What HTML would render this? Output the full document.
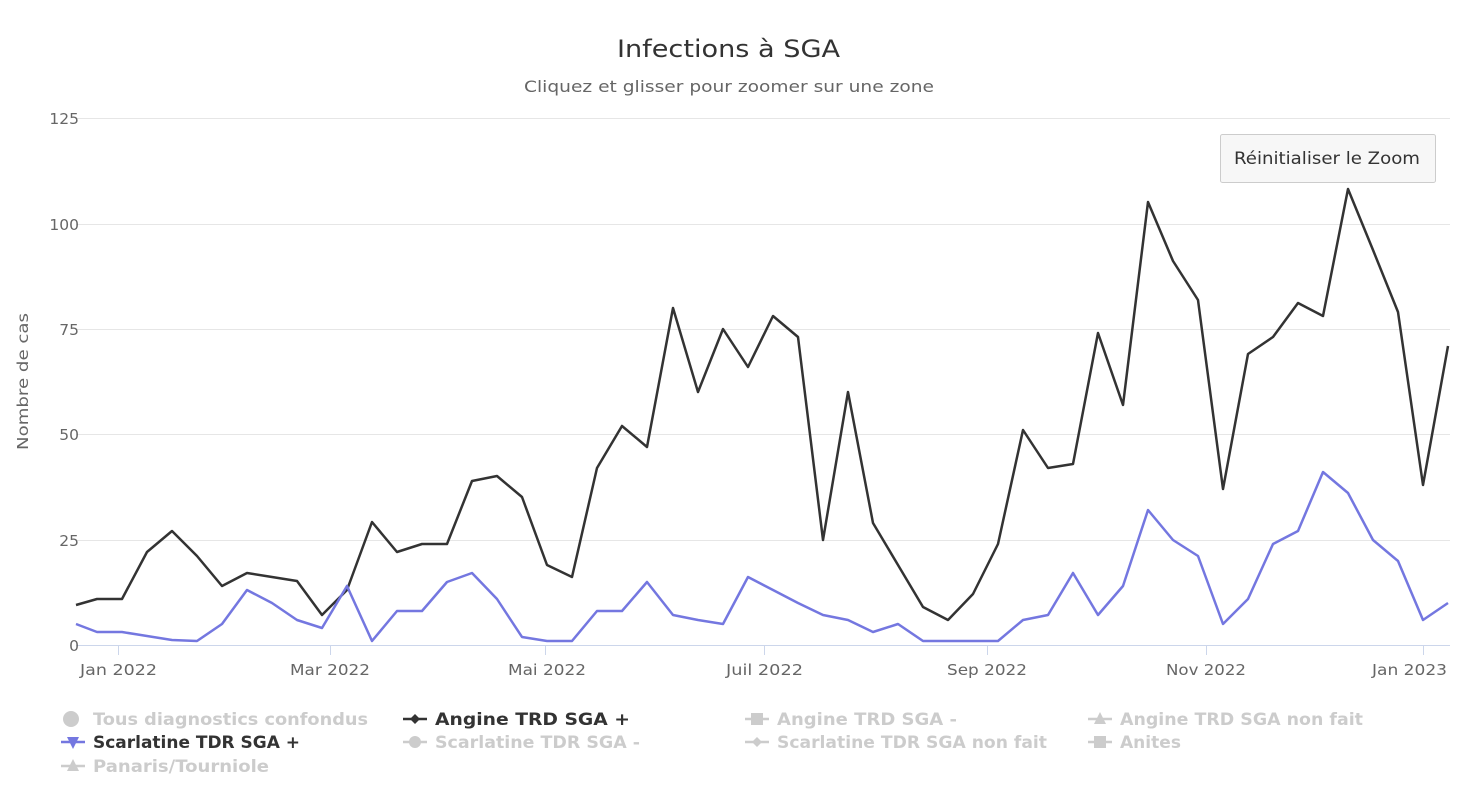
<!DOCTYPE html>
<html><head><meta charset="utf-8"><style>
body{margin:0;background:#fff;}
</style></head><body>
<svg width="1480" height="797" xmlns="http://www.w3.org/2000/svg" font-family="DejaVu Sans, Liberation Sans, sans-serif">
<rect width="1480" height="797" fill="#fff"/>
<text x="617" y="57" font-size="24" fill="#333" textLength="223" lengthAdjust="spacingAndGlyphs">Infections à SGA</text>
<text x="524" y="92" font-size="16" fill="#666" textLength="410" lengthAdjust="spacingAndGlyphs">Cliquez et glisser pour zoomer sur une zone</text>
<g stroke="#e6e6e6" stroke-width="1">
<line x1="76" x2="1450" y1="118.5" y2="118.5"/>
<line x1="76" x2="1450" y1="224.5" y2="224.5"/>
<line x1="76" x2="1450" y1="329.5" y2="329.5"/>
<line x1="76" x2="1450" y1="434.5" y2="434.5"/>
<line x1="76" x2="1450" y1="540.5" y2="540.5"/>
</g>
<line x1="76" x2="1450" y1="645.5" y2="645.5" stroke="#ccd6eb"/>
<g stroke="#ccd6eb"><line x1="118.5" x2="118.5" y1="645" y2="655"/><line x1="330.5" x2="330.5" y1="645" y2="655"/><line x1="545.5" x2="545.5" y1="645" y2="655"/><line x1="764.5" x2="764.5" y1="645" y2="655"/><line x1="987.5" x2="987.5" y1="645" y2="655"/><line x1="1206.5" x2="1206.5" y1="645" y2="655"/><line x1="1423.5" x2="1423.5" y1="645" y2="655"/></g>
<g font-size="15.5" fill="#666" text-anchor="end">
<text x="79" y="124">125</text><text x="79" y="230">100</text><text x="79" y="335">75</text><text x="79" y="440">50</text><text x="79" y="546">25</text><text x="79" y="651">0</text>
</g>
<g font-size="15.5" fill="#666">
<text x="80" y="675" textLength="77" lengthAdjust="spacingAndGlyphs">Jan 2022</text>
<text x="290" y="675" textLength="80" lengthAdjust="spacingAndGlyphs">Mar 2022</text>
<text x="508" y="675" textLength="78" lengthAdjust="spacingAndGlyphs">Mai 2022</text>
<text x="726" y="675" textLength="77" lengthAdjust="spacingAndGlyphs">Juil 2022</text>
<text x="947" y="675" textLength="80" lengthAdjust="spacingAndGlyphs">Sep 2022</text>
<text x="1166" y="675" textLength="80" lengthAdjust="spacingAndGlyphs">Nov 2022</text>
<text x="1372" y="675" textLength="75" lengthAdjust="spacingAndGlyphs">Jan 2023</text>
</g>
<text transform="translate(28,450) rotate(-90)" font-size="15.5" fill="#666" textLength="137" lengthAdjust="spacingAndGlyphs">Nombre de cas</text>
<polyline fill="none" stroke="#333" stroke-width="2.5" stroke-linejoin="round" points="76,605 97,599 122,599 147,552 172,531 197,556 222,586 247,573 272,577 297,581 322,615 347,590 372,522 397,552 422,544 447,544 472,481 497,476 522,497 547,565 572,577 597,468 622,426 647,447 673,308 698,392 723,329 748,367 773,316 798,337 823,540 848,392 873,523 898,565 923,607 948,620 973,594 998,544 1023,430 1048,468 1073,464 1098,333 1123,405 1148,202 1173,261 1198,300 1223,489 1248,354 1273,337 1298,303 1323,316 1348,189 1373,250 1398,312 1423,485 1448,346"/>
<polyline fill="none" stroke="#7477e0" stroke-width="2.5" stroke-linejoin="round" points="76,624 97,632 122,632 147,636 172,640 197,641 222,624 247,590 272,603 297,620 322,628 347,586 372,641 397,611 422,611 447,582 472,573 497,599 522,637 547,641 572,641 597,611 622,611 647,582 673,615 698,620 723,624 748,577 773,590 798,603 823,615 848,620 873,632 898,624 923,641 948,641 973,641 998,641 1023,620 1048,615 1073,573 1098,615 1123,586 1148,510 1173,540 1198,556 1223,624 1248,599 1273,544 1298,531 1323,472 1348,493 1373,540 1398,561 1423,620 1448,603"/>
<rect x="1220.5" y="134.5" width="215" height="48" rx="2" fill="#f7f7f7" stroke="#ccc"/>
<text x="1234" y="164" font-size="16.5" fill="#333" textLength="186" lengthAdjust="spacingAndGlyphs">Réinitialiser le Zoom</text>
<g font-size="17" font-weight="bold">
<circle cx="71" cy="719" r="8" fill="#ccc"/><text x="93" y="725" fill="#ccc" textLength="275" lengthAdjust="spacingAndGlyphs">Tous diagnostics confondus</text>
<line x1="403" x2="427" y1="719" y2="719" stroke="#333" stroke-width="2.5"/><path d="M415 714 L420 719 L415 724 L410 719Z" fill="#333"/><text x="435" y="725" fill="#333" textLength="195" lengthAdjust="spacingAndGlyphs">Angine TRD SGA +</text>
<line x1="745" x2="769" y1="719" y2="719" stroke="#ccc" stroke-width="2.5"/><rect x="751" y="713" width="12" height="12" fill="#ccc"/><text x="777" y="725" fill="#ccc" textLength="180" lengthAdjust="spacingAndGlyphs">Angine TRD SGA -</text>
<line x1="1088" x2="1112" y1="719" y2="719" stroke="#ccc" stroke-width="2.5"/><path d="M1100 712 L1106 724 L1094 724Z" fill="#ccc"/><text x="1120" y="725" fill="#ccc" textLength="243" lengthAdjust="spacingAndGlyphs">Angine TRD SGA non fait</text>
<line x1="61" x2="85" y1="742" y2="742" stroke="#7477e0" stroke-width="2.5"/><path d="M67 737 L79 737 L73 749Z" fill="#7477e0"/><text x="93" y="748" fill="#333" textLength="207" lengthAdjust="spacingAndGlyphs">Scarlatine TDR SGA +</text>
<line x1="403" x2="427" y1="742" y2="742" stroke="#ccc" stroke-width="2.5"/><circle cx="415" cy="742" r="6" fill="#ccc"/><text x="435" y="748" fill="#ccc" textLength="205" lengthAdjust="spacingAndGlyphs">Scarlatine TDR SGA -</text>
<line x1="745" x2="769" y1="742" y2="742" stroke="#ccc" stroke-width="2.5"/><path d="M757 737 L762 742 L757 747 L752 742Z" fill="#ccc"/><text x="777" y="748" fill="#ccc" textLength="270" lengthAdjust="spacingAndGlyphs">Scarlatine TDR SGA non fait</text>
<line x1="1088" x2="1112" y1="742" y2="742" stroke="#ccc" stroke-width="2.5"/><rect x="1094" y="736" width="12" height="12" fill="#ccc"/><text x="1120" y="748" fill="#ccc" textLength="61" lengthAdjust="spacingAndGlyphs">Anites</text>
<line x1="61" x2="85" y1="766" y2="766" stroke="#ccc" stroke-width="2.5"/><path d="M73 759 L79 771 L67 771Z" fill="#ccc"/><text x="93" y="772" fill="#ccc" textLength="176" lengthAdjust="spacingAndGlyphs">Panaris/Tourniole</text>
</g>
</svg>
</body></html>
